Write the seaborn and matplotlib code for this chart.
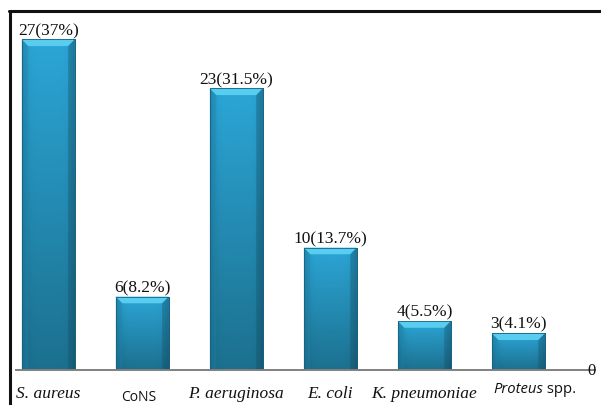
import numpy as np
import pandas as pd
import matplotlib
matplotlib.use("Agg")
import matplotlib.pyplot as plt
import seaborn as sns
from matplotlib.lines import Line2D
from matplotlib.patches import Polygon

# data
species = ["S. aureus", "CoNS", "P. aeruginosa", "E. coli", "K. pneumoniae", "Proteus spp."]
counts = [27, 6, 23, 10, 4, 3]
percents = ["37", "8.2", "31.5", "13.7", "5.5", "4.1"]
italic_serif = [True, False, True, True, True, False]

df = pd.DataFrame({"species": species, "count": counts})

sns.set_style("white")
plt.rcParams['font.family'] = ['Liberation Serif', 'DejaVu Serif']

fig = plt.figure(figsize=(6.01, 4.06), dpi=100)
ax = fig.add_axes([16 / 601, 35 / 406, (595 - 16) / 601, (384 - 35) / 406])

sns.barplot(data=df, x="species", y="count", order=species, color="#2596c4",
            width=0.565, ax=ax, saturation=1, edgecolor="#1a6180", linewidth=0.6)
ax.set_xlim(-0.342, 5.815)
ax.set_ylim(0, 28.5)
px = 28.5 / 349  # data units per pixel, vertical

# gradient + bevel on each bar
top_c = np.array([0.17, 0.65, 0.84])
bot_c = np.array([0.11, 0.44, 0.56])
ny, nx = 60, 40
tv = np.linspace(1, 0, ny)[:, None]
hx = np.abs(np.linspace(-1, 1, nx))[None, :]
edge = 1 - 0.18 * hx ** 6
img = (bot_c[None, None, :] + (top_c - bot_c)[None, None, :] * tv[:, :, None]) * edge[:, :, None]
for p in ax.containers[0]:
    x0, w, h = p.get_x(), p.get_width(), p.get_height()
    im = ax.imshow(img, extent=[x0, x0 + w, 0, h], aspect="auto", zorder=2.1,
                   interpolation="bilinear")
    im.set_clip_path(p)
    dx, dh = 0.07, 0.55
    ax.add_patch(Polygon([[x0, h], [x0 + w, h], [x0 + w - dx, h - dh], [x0 + dx, h - dh]],
                         closed=True, facecolor="#58cdf0", edgecolor="none", zorder=2.2))
    ax.add_patch(Polygon([[x0, h], [x0 + dx, h - dh], [x0 + dx, 0], [x0, 0]],
                         closed=True, facecolor="#1f86ad", edgecolor="none", alpha=0.35, zorder=2.2))
    ax.add_patch(Polygon([[x0 + w, h], [x0 + w - dx, h - dh], [x0 + w - dx, 0], [x0 + w, 0]],
                         closed=True, facecolor="#124e66", edgecolor="none", alpha=0.35, zorder=2.2))
    p.set_zorder(2.3)
    p.set_facecolor("none")

labels = [f"{c}({pc}%)" for c, pc in zip(counts, percents)]
ax.bar_label(ax.containers[0], labels=labels, padding=1, fontsize=12.5,
             family=['Liberation Serif'], color="#111111")

# axis styling
for s in ["top", "right", "left"]:
    ax.spines[s].set_visible(False)
ax.spines["bottom"].set_color("#808080")
ax.spines["bottom"].set_linewidth(1.4)
ax.set_yticks([])
ax.set_xticks([])
ax.set_xlabel("")
ax.set_ylabel("")
ax.text(5.78, 0, "0", fontsize=12, va="center", ha="center", color="#111111")

# category labels
for i, (name, it) in enumerate(zip(species, italic_serif)):
    if it:
        ax.text(i, -23 * px, name, ha="center", va="center", fontsize=12.5,
                style="italic", family=['Liberation Serif'], color="#111111", clip_on=False)
    elif name == "CoNS":
        ax.text(i - 0.04, -26.5 * px, name, ha="center", va="center", fontsize=10,
                family=['Open Sans', 'DejaVu Sans'], color="#111111", clip_on=False)
    else:
        t1 = ax.text(i + 0.26, -19 * px, "Proteus", ha="right", va="center", fontsize=10.7,
                     style="italic", family=['Open Sans', 'DejaVu Sans'], color="#111111", clip_on=False)
        ax.annotate(" spp.", xy=(1, 0), xycoords=t1, va="bottom", ha="left", fontsize=10.7,
                    family=['Open Sans', 'DejaVu Sans'], color="#111111", annotation_clip=False)

# outer frame (top and left edges)
fig.add_artist(Line2D([9 / 601, 1], [1 - 12 / 406, 1 - 12 / 406], transform=fig.transFigure,
                      color="#111111", linewidth=2.2))
fig.add_artist(Line2D([10 / 601, 10 / 601], [0, 1 - 12 / 406], transform=fig.transFigure,
                      color="#111111", linewidth=2.2))

fig.savefig("out.png", dpi=100)
